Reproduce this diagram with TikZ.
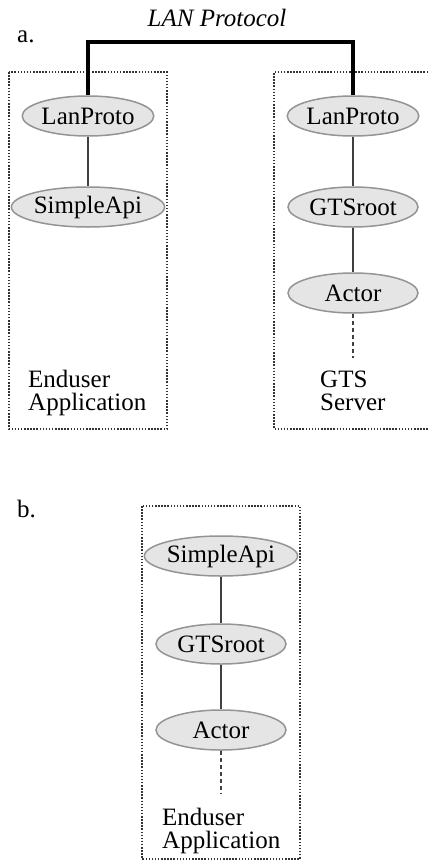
\documentclass[tikz,border=0pt]{standalone}
\usepackage{fontspec}
\setmainfont{Liberation Serif}
\usetikzlibrary{shapes.geometric}
\begin{document}
\begin{tikzpicture}[x=1pt,y=-1pt,
  comp/.style={ellipse, draw=black!42, line width=1.5pt, fill=black!10,
    minimum width=130pt, minimum height=40pt, inner sep=0pt,
    font=\fontsize{25}{25}\selectfont},
  link/.style={draw=black!75, line width=1.5pt},
  tail/.style={draw=black!75, line width=1.5pt, dash pattern=on 4pt off 3pt},
  lanbus/.style={draw=black, line width=3.2pt},
  frame/.style={draw=black!80, line width=1.5pt, dash pattern=on 1.5pt off 1.6pt},
  caption/.style={anchor=base west, align=left, inner sep=0pt,
    font=\fontsize{25}{22.5}\selectfont},
  tag/.style={anchor=base west, inner sep=0pt, font=\fontsize{25}{25}\selectfont}]
\useasboundingbox (0,0) rectangle (428,865);

% part a: client and server process frames
\draw[frame] (9,72) rectangle (167,429);
\draw[frame] (428,72) -- (274,72) -- (274,429) -- (428,429);

\node[tag] (la) at (17,42) {a.};
\node[font=\fontsize{25}{25}\selectfont\itshape] (lan) at (217,18) {LAN Protocol};

\node[comp] (lp1) at (88,116) {LanProto};
\node[comp] (sa1) at (88,207) {SimpleApi};

\node[comp] (lp2) at (353,116) {LanProto};
\node[comp] (gr2) at (353,207) {GTSroot};
\node[comp] (ac2) at (353,293) {Actor};
\coordinate (end2) at (353,358);

\coordinate (bus) at (220,42);
\draw[lanbus] (lp1.north) |- (bus) -| (lp2.north);
\draw[link] (lp1) -- (sa1);
\draw[link] (lp2) -- (gr2);
\draw[link] (gr2) -- (ac2);
\draw[tail] (ac2.south) -- (end2);

% the base anchor of a two-line caption sits on its last line
\node[caption] (cap1) at (28,410) {Enduser\\Application};
\node[caption] (cap2) at (320,410) {GTS\\Server};

% part b: everything inside one application
\draw[frame] (142,506) rectangle (300,859);
\node[tag] (lb) at (17,517) {b.};

\node[comp] (sa3) at (221,556) {SimpleApi};
\node[comp] (gr3) at (221,644) {GTSroot};
\node[comp] (ac3) at (221,730) {Actor};
\coordinate (end3) at (221,793);

\draw[link] (sa3) -- (gr3);
\draw[link] (gr3) -- (ac3);
\draw[tail] (ac3.south) -- (end3);

\node[caption] (cap3) at (162,848) {Enduser\\Application};
\end{tikzpicture}
\end{document}
